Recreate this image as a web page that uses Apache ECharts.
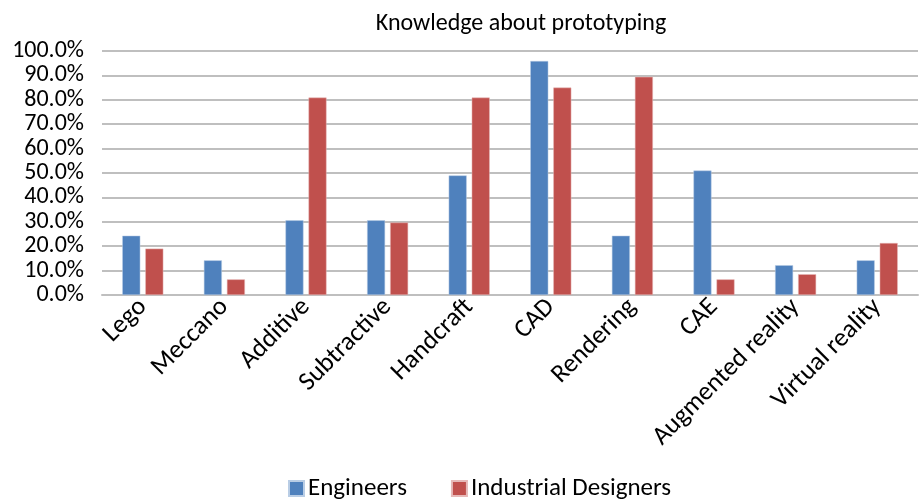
<!DOCTYPE html>
<html><head><meta charset="utf-8">
<script src="https://cdn.jsdelivr.net/npm/echarts@6/dist/echarts.min.js"></script>
<style>html,body{margin:0;padding:0;background:#fff}#c{width:919px;height:503px}</style>
</head><body><div id="c"></div>
<script>
const categories = ['Lego','Meccano','Additive','Subtractive','Handcraft','CAD','Rendering','CAE','Augmented reality','Virtual reality'];
const engineers = [24.3, 14.2, 30.6, 30.6, 49.0, 95.9, 24.3, 51.0, 12.2, 14.2];
const industrialDesigners = [19.0, 6.4, 80.9, 29.7, 80.9, 85.0, 89.4, 6.4, 8.5, 21.3];
const FONT = "Carlito, 'Liberation Sans', sans-serif";
const chart = echarts.init(document.getElementById('c'), null, {renderer:'canvas'});
chart.setOption({
  animation:false,
  textStyle:{fontFamily:FONT},
  title:{text:'Knowledge about prototyping', left:516, textAlign:'center', top:7,
    textStyle:{fontFamily:FONT, fontSize:24, fontWeight:'normal', color:'#000'}},
  legend:{top:471, left:283, itemWidth:15, itemHeight:15, itemGap:44, icon:'rect',
    textStyle:{fontFamily:FONT, fontSize:25, color:'#000', padding:[0,0,0,-1]},
    data:['Engineers','Industrial Designers']},
  grid:{left:102, right:1, top:51, bottom:208, containLabel:false},
  xAxis:{type:'category', data:categories,
    axisLine:{lineStyle:{color:'#BFBFBF', width:2}}, axisTick:{show:false},
    axisLabel:{rotate:45, fontFamily:FONT, fontSize:26, color:'#000', interval:0, margin:8}},
  yAxis:{type:'value', min:0, max:100, interval:10,
    axisLine:{show:false}, axisTick:{show:false},
    splitLine:{lineStyle:{color:'#BFBFBF', width:2}},
    axisLabel:{formatter:v=>v.toFixed(1)+'%', fontFamily:FONT, fontSize:24, color:'#000', margin:18}},
  series:[
    {name:'Engineers', type:'bar', data:engineers, barWidth:18, barGap:'28%',
      itemStyle:{color:'#4F81BD', borderColor:'#B9CDE5', borderWidth:0.5}},
    {name:'Industrial Designers', type:'bar', data:industrialDesigners, barWidth:18,
      itemStyle:{color:'#C0504D', borderColor:'#E6B9B8', borderWidth:0.5}}
  ]
});
</script></body></html>
